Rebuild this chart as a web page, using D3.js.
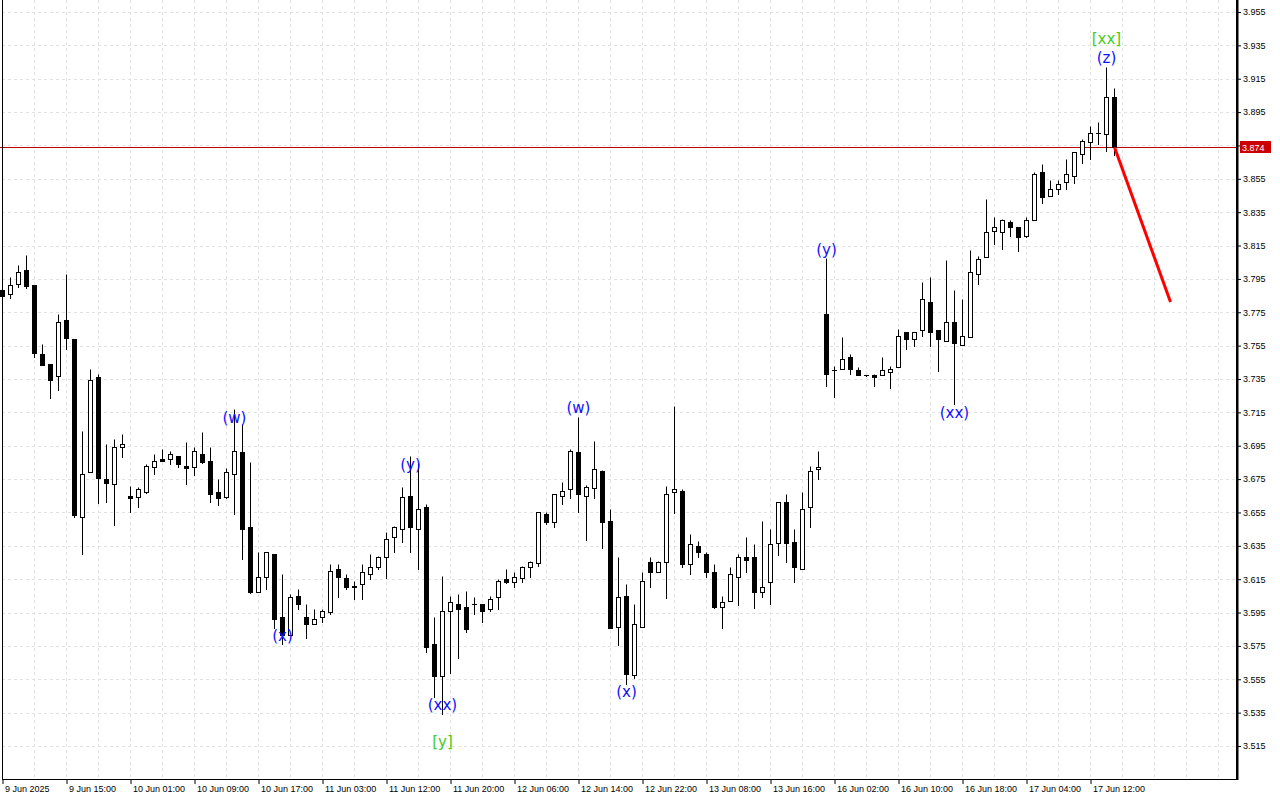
<!DOCTYPE html>
<html>
<head>
<meta charset="utf-8">
<script src="https://cdn.jsdelivr.net/npm/d3@7"></script>
<style>
  body { margin: 0; background: #fff; }
  svg { display: block; font-family: "Liberation Sans", Arial, sans-serif; }
</style>
</head>
<body>
<div id="chart"></div>
<script>
// Hourly candles (bar index = position on the time axis)
var opens = [
  3.7883, 3.7857, 3.7917, 3.8003, 3.7913, 3.7500, 3.7440, 3.7370, 3.7703, 3.7590,
  3.6524, 3.6790, 3.7362, 3.6750, 3.6718, 3.6944, 3.6648, 3.6645, 3.6675, 3.6824,
  3.6870, 3.6868, 3.6886, 3.6828, 3.6820, 3.6898, 3.6858, 3.6670, 3.6645, 3.6778,
  3.6912, 3.6463, 3.6075, 3.6161, 3.6301, 3.5921, 3.5815, 3.6047, 3.5921, 3.5879,
  3.5921, 3.5955, 3.6211, 3.6159, 3.6107, 3.6119, 3.6181, 3.6221, 3.6281, 3.6401,
  3.6449, 3.6647, 3.6449, 3.6581, 3.5760, 3.5570, 3.5959, 3.5999, 3.5981, 3.5999,
  3.5999, 3.5969, 3.6041, 3.6149, 3.6135, 3.6159, 3.6225, 3.6249, 3.6539, 3.6491,
  3.6649, 3.6689, 3.6910, 3.6649, 3.6699, 3.6799, 3.6499, 3.5861, 3.6047, 3.5576,
  3.5865, 3.6251, 3.6195, 3.6255, 3.6671, 3.6679, 3.6239, 3.6351, 3.6301, 3.6191,
  3.5985, 3.6019, 3.6165, 3.6281, 3.6281, 3.6071, 3.6131, 3.6369, 3.6611, 3.6371,
  3.6209, 3.6581, 3.6809, 3.7737, 3.7402, 3.7408, 3.7480, 3.7402, 3.7372, 3.7372,
  3.7372, 3.7390, 3.7420, 3.7630, 3.7588, 3.7644, 3.7809, 3.7644, 3.7580, 3.7690,
  3.7554, 3.7600, 3.7979, 3.8079, 3.8239, 3.8229, 3.8289, 3.8259, 3.8209, 3.8303,
  3.8589, 3.8449, 3.8487, 3.8529, 3.8569, 3.8697, 3.8769, 3.8827, 3.8817, 3.9038
];
var highs = [
  3.7889, 3.7959, 3.8033, 3.8093, 3.7913, 3.7560, 3.7440, 3.7739, 3.7979, 3.7590,
  3.7038, 3.7410, 3.7378, 3.6960, 3.6990, 3.7020, 3.6708, 3.6704, 3.6840, 3.6898,
  3.6928, 3.6918, 3.6886, 3.6972, 3.6940, 3.7030, 3.6940, 3.6750, 3.6818, 3.7170,
  3.7078, 3.6850, 3.6311, 3.6311, 3.6301, 3.6179, 3.6059, 3.6089, 3.6001, 3.5969,
  3.5969, 3.6241, 3.6241, 3.6179, 3.6139, 3.6241, 3.6301, 3.6291, 3.6431, 3.6471,
  3.6701, 3.6888, 3.6848, 3.6599, 3.5921, 3.6169, 3.6051, 3.6059, 3.6079, 3.6041,
  3.5999, 3.6049, 3.6149, 3.6209, 3.6191, 3.6231, 3.6259, 3.6551, 3.6551, 3.6659,
  3.6731, 3.6928, 3.7120, 3.6715, 3.6978, 3.6805, 3.6571, 3.6285, 3.6121, 3.6001,
  3.6191, 3.6281, 3.6259, 3.6709, 3.7188, 3.6691, 3.6421, 3.6379, 3.6311, 3.6241,
  3.6049, 3.6221, 3.6301, 3.6405, 3.6361, 3.6499, 3.6451, 3.6611, 3.6661, 3.6451,
  3.6671, 3.6829, 3.6918, 3.8073, 3.7430, 3.7600, 3.7500, 3.7420, 3.7374, 3.7378,
  3.7480, 3.7430, 3.7650, 3.7630, 3.7630, 3.7929, 3.7959, 3.7644, 3.8063, 3.7883,
  3.7829, 3.8121, 3.8089, 3.8429, 3.8319, 3.8309, 3.8303, 3.8259, 3.8319, 3.8589,
  3.8639, 3.8543, 3.8543, 3.8669, 3.8709, 3.8789, 3.8869, 3.8889, 3.9218, 3.9092
];
var lows = [
  3.7843, 3.7837, 3.7903, 3.7897, 3.7480, 3.7436, 3.7238, 3.7284, 3.7528, 3.6521,
  3.6299, 3.6790, 3.6609, 3.6615, 3.6475, 3.6884, 3.6555, 3.6585, 3.6669, 3.6778,
  3.6856, 3.6838, 3.6824, 3.6718, 3.6774, 3.6848, 3.6615, 3.6595, 3.6639, 3.6539,
  3.6269, 3.6069, 3.6071, 3.6089, 3.5855, 3.5759, 3.5815, 3.5969, 3.5799, 3.5879,
  3.5895, 3.5939, 3.6045, 3.6089, 3.6029, 3.6029, 3.6149, 3.6209, 3.6159, 3.6311,
  3.6371, 3.6315, 3.6209, 3.5716, 3.5446, 3.5340, 3.5586, 3.5676, 3.5835, 3.5939,
  3.5891, 3.5959, 3.5969, 3.6129, 3.6105, 3.6135, 3.6165, 3.6229, 3.6479, 3.6465,
  3.6599, 3.6639, 3.6555, 3.6385, 3.6639, 3.6339, 3.5859, 3.5756, 3.5522, 3.5556,
  3.5865, 3.6105, 3.6191, 3.6039, 3.6549, 3.6225, 3.6179, 3.6285, 3.6161, 3.5979,
  3.5859, 3.6019, 3.5995, 3.6195, 3.5979, 3.6045, 3.5999, 3.6295, 3.6255, 3.6131,
  3.6209, 3.6465, 3.6749, 3.7310, 3.7244, 3.7408, 3.7378, 3.7372, 3.7370, 3.7310,
  3.7372, 3.7298, 3.7420, 3.7528, 3.7550, 3.7610, 3.7550, 3.7400, 3.7580, 3.7200,
  3.7554, 3.7600, 3.7919, 3.8079, 3.8157, 3.8127, 3.8209, 3.8119, 3.8199, 3.8303,
  3.8407, 3.8449, 3.8457, 3.8487, 3.8527, 3.8647, 3.8667, 3.8757, 3.8719, 3.8693
];
var closes = [
  3.7849, 3.7911, 3.7989, 3.7909, 3.7508, 3.7436, 3.7346, 3.7689, 3.7598, 3.6535,
  3.6778, 3.7344, 3.6758, 3.6728, 3.6940, 3.6960, 3.6639, 3.6690, 3.6826, 3.6856,
  3.6856, 3.6898, 3.6838, 3.6818, 3.6918, 3.6854, 3.6659, 3.6639, 3.6790, 3.6918,
  3.6449, 3.6073, 3.6165, 3.6311, 3.5909, 3.5815, 3.6041, 3.5999, 3.5879, 3.5911,
  3.5959, 3.6199, 3.6165, 3.6105, 3.6105, 3.6191, 3.6221, 3.6281, 3.6389, 3.6461,
  3.6641, 3.6461, 3.6569, 3.5746, 3.5570, 3.5959, 3.6011, 3.5969, 3.5849, 3.5999,
  3.5959, 3.6029, 3.6139, 3.6135, 3.6165, 3.6225, 3.6251, 3.6551, 3.6491, 3.6659,
  3.6679, 3.6918, 3.6659, 3.6705, 3.6809, 3.6491, 3.5859, 3.6041, 3.5582, 3.5879,
  3.6139, 3.6191, 3.6251, 3.6659, 3.6691, 3.6239, 3.6359, 3.6311, 3.6195, 3.5985,
  3.6011, 3.6179, 3.6281, 3.6265, 3.6071, 3.6101, 3.6359, 3.6611, 3.6369, 3.6221,
  3.6569, 3.6799, 3.6821, 3.7378, 3.7402, 3.7468, 3.7408, 3.7372, 3.7372, 3.7360,
  3.7402, 3.7408, 3.7610, 3.7588, 3.7630, 3.7827, 3.7630, 3.7588, 3.7690, 3.7568,
  3.7610, 3.7990, 3.8068, 3.8229, 3.8259, 3.8303, 3.8259, 3.8199, 3.8303, 3.8579,
  3.8439, 3.8487, 3.8519, 3.8579, 3.8709, 3.8779, 3.8827, 3.8827, 3.9038, 3.8739
];

// Time axis labels, one every 8 bars
var timeLabels = ["9 Jun 2025", "9 Jun 15:00", "10 Jun 01:00", "10 Jun 09:00", "10 Jun 17:00",
  "11 Jun 03:00", "11 Jun 12:00", "11 Jun 20:00", "12 Jun 06:00", "12 Jun 14:00",
  "12 Jun 22:00", "13 Jun 08:00", "13 Jun 16:00", "16 Jun 02:00", "16 Jun 10:00",
  "16 Jun 18:00", "17 Jun 04:00", "17 Jun 12:00"];
var priceTicks = [3.515, 3.535, 3.555, 3.575, 3.595, 3.615, 3.635, 3.655, 3.675, 3.695,
  3.715, 3.735, 3.755, 3.775, 3.795, 3.815, 3.835, 3.855, 3.875, 3.895, 3.915, 3.935, 3.955];

// Wave labels
var waveText  = ["(w)", "(x)", "(y)", "(xx)", "[y]", "(w)", "(x)", "(y)", "(xx)", "(z)", "[xx]"];
var waveBar   = [29, 35, 51, 55, 55, 72, 78, 103, 119, 138, 138];
var wavePrice = [3.7116, 3.5809, 3.6834, 3.5396, 3.5174, 3.7176, 3.5474, 3.8123, 3.7146, 3.9274, 3.9388];
var waveGreen = [false, false, false, false, true, false, false, false, false, false, true];

// Forecast arrow
var forecastBars = [139, 146];
var forecastPrices = [3.8739, 3.7812];

var currentPrice = 3.874;

var width = 1280, height = 800;
var plotLeft = 2, plotRight = 1237, plotBottom = 779;

var svg = d3.select("#chart").append("svg")
    .attr("width", width)
    .attr("height", height);

// 8 px per bar
var xScale = d3.scaleLinear().domain([0, 1]).range([2.5, 10.5]);
var yScale = d3.scaleLinear().domain([3.515, 3.955]).range([746, 12]);
function py(p) { return Math.round(yScale(p)) + 0.5; }

// Grid
var grid = svg.append("g").attr("stroke", "#e2e2e2").attr("stroke-dasharray", "3,3");
grid.selectAll("line.h").data(priceTicks).enter().append("line")
    .attr("x1", plotLeft).attr("x2", plotRight)
    .attr("y1", d => py(d)).attr("y2", d => py(d));
grid.selectAll("line.v").data(d3.range(4, 153, 4)).enter().append("line")
    .attr("x1", d => xScale(d)).attr("x2", d => xScale(d))
    .attr("y1", 0).attr("y2", plotBottom);

// Current price line
svg.append("line")
    .attr("x1", 0).attr("x2", plotRight)
    .attr("y1", py(currentPrice)).attr("y2", py(currentPrice))
    .attr("stroke", "#c00000").attr("stroke-width", 1);

// Candles
var bars = d3.range(opens.length).map(i => ({i: i, o: opens[i], h: highs[i], l: lows[i], c: closes[i]}));
var candles = svg.append("g").selectAll("g").data(bars).enter().append("g");

candles.append("line")
    .attr("x1", d => xScale(d.i)).attr("x2", d => xScale(d.i))
    .attr("y1", d => py(d.h)).attr("y2", d => py(d.l) + 0.5)
    .attr("stroke", "#000").attr("stroke-width", 1);

candles.filter(d => Math.abs(py(d.o) - py(d.c)) >= 1).append("rect")
    .attr("x", d => xScale(d.i) - 2)
    .attr("width", 4)
    .attr("y", d => Math.min(py(d.o), py(d.c)))
    .attr("height", d => Math.abs(py(d.o) - py(d.c)))
    .attr("fill", d => d.c >= d.o ? "#fff" : "#000")
    .attr("stroke", "#000").attr("stroke-width", 1);

candles.filter(d => Math.abs(py(d.o) - py(d.c)) < 1).append("line")
    .attr("x1", d => xScale(d.i) - 2.5).attr("x2", d => xScale(d.i) + 2.5)
    .attr("y1", d => py(d.c)).attr("y2", d => py(d.c))
    .attr("stroke", "#000").attr("stroke-width", 1);

// Forecast line
var forecast = forecastBars.map((b, k) => [xScale(b), yScale(forecastPrices[k])]);
svg.append("path")
    .attr("d", d3.line()(forecast))
    .attr("fill", "none")
    .attr("stroke", "#ff0000")
    .attr("stroke-width", 3);

// Wave labels
svg.append("g").selectAll("text").data(waveText).enter().append("text")
    .attr("x", (d, k) => xScale(waveBar[k]))
    .attr("y", (d, k) => yScale(wavePrice[k]))
    .attr("text-anchor", "middle")
    .attr("dominant-baseline", "central")
    .attr("font-family", "'DejaVu Sans', sans-serif")
    .attr("font-size", 15)
    .attr("fill", (d, k) => waveGreen[k] ? "#44cc22" : "#1010ff")
    .text(d => d);

// Frame
svg.append("line").attr("x1", plotLeft + 0.5).attr("x2", plotLeft + 0.5)
    .attr("y1", 0).attr("y2", plotBottom).attr("stroke", "#000");
svg.append("line").attr("x1", plotLeft).attr("x2", plotRight + 1)
    .attr("y1", plotBottom + 0.5).attr("y2", plotBottom + 0.5).attr("stroke", "#000");
svg.append("rect").attr("x", plotRight - 1).attr("y", 0)
    .attr("width", 2.5).attr("height", plotBottom + 1).attr("fill", "#000");

// Price axis
var yAxis = svg.append("g")
    .attr("transform", `translate(${plotRight + 1},0)`)
    .call(d3.axisRight(yScale).tickValues(priceTicks).tickSize(3).tickPadding(2).tickFormat(d3.format(".3f")));
yAxis.select(".domain").remove();
yAxis.selectAll("text").attr("font-size", 9).attr("font-family", "'Liberation Sans', Arial, sans-serif").attr("fill", "#000");

// Current price box
svg.append("rect")
    .attr("x", plotRight + 3).attr("y", py(currentPrice) - 6.5)
    .attr("width", 31).attr("height", 12)
    .attr("fill", "#cc0000");
svg.append("text")
    .attr("x", plotRight + 5).attr("y", py(currentPrice))
    .attr("dominant-baseline", "central")
    .attr("font-size", 9).attr("fill", "#fff")
    .text(d3.format(".3f")(currentPrice));

// Time axis
var xAxis = svg.append("g")
    .attr("transform", `translate(0,${plotBottom})`)
    .call(d3.axisBottom(xScale)
        .tickValues(d3.range(0, timeLabels.length * 8, 8))
        .tickSize(5).tickPadding(2)
        .tickFormat((d, k) => timeLabels[k]));
xAxis.select(".domain").remove();
xAxis.selectAll("text")
    .attr("text-anchor", "start").attr("x", 2)
    .attr("font-size", 9).attr("font-family", "'Liberation Sans', Arial, sans-serif").attr("fill", "#000");
</script>
</body>
</html>
